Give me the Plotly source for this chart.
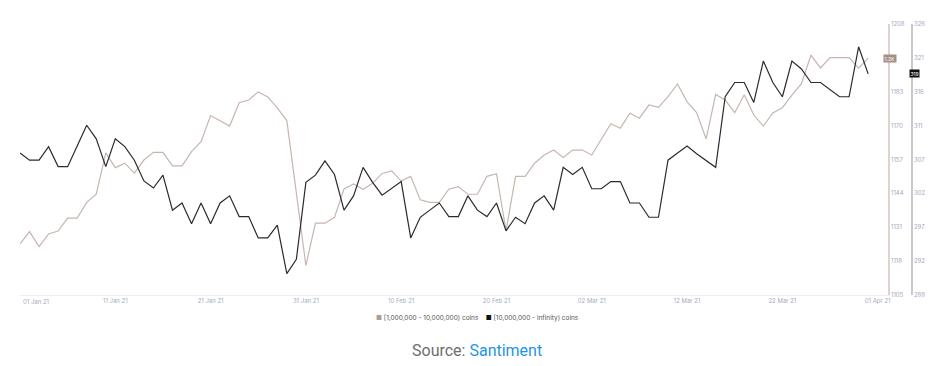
import numpy as np
import pandas as pd
import plotly.graph_objects as go

dates = pd.date_range("2021-01-01", periods=90, freq="D")

# [1,000,000 - 10,000,000) coins  (inner right axis, 1105..1208)
holders_1m_10m = [
    1124.4, 1129.1, 1123.4, 1128.2, 1129.3, 1134.2, 1134.2, 1140.2, 1143.3, 1159.0,
    1153.4, 1155.1, 1151.3, 1156.3, 1159.2, 1159.2, 1154.1, 1154.1, 1159.5, 1163.3,
    1173.2, 1171.3, 1169.2, 1178.1, 1179.1, 1182.2, 1180.3, 1176.1, 1171.3, 1143.8,
    1116.2, 1132.3, 1132.3, 1134.5, 1145.3, 1147.2, 1145.2, 1147.5, 1151.2, 1152.2,
    1148.3, 1150.1, 1141.2, 1140.2, 1140.2, 1145.2, 1146.2, 1143.3, 1143.3, 1150.1,
    1151.1, 1129.4, 1150.1, 1150.1, 1155.1, 1158.2, 1160.1, 1157.3, 1160.1, 1160.1,
    1158.2, 1164.2, 1170.1, 1168.4, 1174.1, 1172.2, 1177.2, 1176.3, 1180.4, 1185.2,
    1178.4, 1174.3, 1164.3, 1181.2, 1179.1, 1174.3, 1181.1, 1173.4, 1169.2, 1174.2,
    1176.2, 1181.0, 1185.3, 1196.2, 1191.3, 1195.2, 1195.2, 1195.2, 1191.2, 1195.0,
]

# [10,000,000 - infinity) coins  (outer right axis, 288..326)
holders_10m_inf = [
    307.9, 306.9, 306.9, 308.8, 306.0, 306.0, 308.9, 311.8, 309.9, 306.0,
    309.9, 308.8, 306.9, 304.0, 303.0, 304.8, 299.9, 300.9, 298.0, 300.9,
    298.0, 300.9, 301.9, 299.0, 299.0, 296.0, 296.0, 297.8, 291.0, 293.0,
    303.8, 304.8, 306.8, 304.9, 299.9, 301.9, 305.9, 303.8, 302.0, 302.9,
    303.9, 296.0, 298.9, 299.9, 300.9, 299.0, 299.0, 301.9, 299.9, 299.0,
    300.9, 297.0, 298.9, 298.0, 300.9, 301.9, 299.9, 305.9, 304.9, 305.9,
    302.9, 302.9, 303.9, 303.9, 300.9, 300.9, 298.9, 298.9, 306.9, 307.9,
    308.9, 307.8, 306.8, 305.9, 315.8, 317.8, 317.8, 315.0, 320.8, 317.8,
    315.8, 320.8, 319.7, 317.8, 317.8, 316.8, 315.8, 315.8, 322.8, 319.0,
]

x_tick_dates = ["2021-01-01", "2021-01-11", "2021-01-21", "2021-01-31", "2021-02-10",
                "2021-02-20", "2021-03-02", "2021-03-12", "2021-03-22", "2021-04-01"]
x_tick_labels = ["01 Jan 21", "11 Jan 21", "21 Jan 21", "31 Jan 21", "10 Feb 21",
                 "20 Feb 21", "02 Mar 21", "12 Mar 21", "22 Mar 21", "01 Apr 21"]

y1_range = [1105, 1208]
y1_labels = ["1105", "1118", "1131", "1144", "1157", "1170", "1183", "", "1208"]
y2_range = [288, 326]
y2_labels = ["288", "292", "297", "302", "307", "311", "316", "321", "326"]

legend_names = ["[1,000,000 - 10,000,000) coins", "[10,000,000 - infinity) coins"]

BROWN = "#c7b6af"
BLACK = "#2b2b2b"
TICK = "#a3abc2"

fig = go.Figure()
fig.add_trace(go.Scatter(x=dates, y=holders_1m_10m, name=legend_names[0], mode="lines",
                         line=dict(color=BROWN, width=1.2), yaxis="y"))
fig.add_trace(go.Scatter(x=dates, y=holders_10m_inf, name=legend_names[1], mode="lines",
                         line=dict(color=BLACK, width=1.2), yaxis="y2"))

W, H = 942, 366
ml, mr, mt, mb = 20, 12, 24, 71
pw = W - ml - mr
ph = H - mt - mb
x_dom_end = (888 - ml) / pw

# the first date label is drawn left-aligned at the plot edge (as in the reference)
shown_x_labels = [""] + x_tick_labels[1:]

fig.update_layout(
    width=W, height=H,
    margin=dict(l=ml, r=mr, t=mt, b=mb, pad=0, autoexpand=False),
    paper_bgcolor="white", plot_bgcolor="white",
    showlegend=False,
    font=dict(family="Inter", size=6, color=TICK),
    xaxis=dict(
        domain=[0, x_dom_end], automargin=False,
        range=[pd.Timestamp("2021-01-01"), pd.Timestamp("2021-04-02 02:00")],
        tickvals=pd.to_datetime(x_tick_dates), ticktext=shown_x_labels,
        showgrid=False, zeroline=False, showline=True, linecolor="#eceef3", linewidth=1,
        ticks="", tickfont=dict(size=6, color=TICK),
    ),
    yaxis=dict(
        side="right", anchor="x", range=y1_range, automargin=False,
        tickvals=list(np.linspace(y1_range[0], y1_range[1], len(y1_labels))),
        ticktext=y1_labels, showgrid=False, zeroline=False,
        showline=True, linecolor="#ddd3cf", linewidth=1.5, ticks="",
        tickfont=dict(size=6, color=TICK),
    ),
    yaxis2=dict(
        side="right", overlaying="y", anchor="free", position=(912 - ml) / pw,
        range=y2_range, automargin=False,
        tickvals=list(np.linspace(y2_range[0], y2_range[1], len(y2_labels))),
        ticktext=y2_labels, showgrid=False, zeroline=False,
        showline=True, linecolor="#c9c9c9", linewidth=1.5, ticks="",
        tickfont=dict(size=6, color=TICK),
    ),
)

fig.add_annotation(x=pd.Timestamp(x_tick_dates[0]), xref="x", y=(mt + ph - 301) / ph,
                   yref="paper", text=x_tick_labels[0], showarrow=False,
                   xanchor="left", yanchor="middle", xshift=1,
                   font=dict(size=6, color=TICK, family="Inter"))

# value badges at the last points
fig.add_annotation(x=(897 - ml) / pw, xref="paper", y=holders_1m_10m[-1], yref="y",
                   text="1.2K", showarrow=False, bgcolor="#a48f86",
                   font=dict(size=5, color="white", family="Inter"), borderpad=0.5)
fig.add_annotation(x=(920 - ml) / pw, xref="paper", y=holders_10m_inf[-1], yref="y2",
                   text=f"{holders_10m_inf[-1]:.0f}", showarrow=False, bgcolor="#111111",
                   font=dict(size=5, color="white", family="Inter"), borderpad=0.5)

# legend
leg_text = (f"<span style='color:#aa9e99'>■</span> {legend_names[0]}"
            f"&nbsp;&nbsp;&nbsp;&nbsp;<span style='color:#111'>■</span> {legend_names[1]}")
fig.add_annotation(x=(477 - ml) / pw, xref="paper", y=(mt + ph - 318) / ph, yref="paper",
                   text=leg_text, showarrow=False, xanchor="center", yanchor="middle",
                   font=dict(size=6.5, color="#555555", family="Inter"))

# source
fig.add_annotation(x=(477 - ml) / pw, xref="paper", y=(mt + ph - 350) / ph, yref="paper",
                   text="Source: <span style='color:#1f93ea'>Santiment</span>",
                   showarrow=False, xanchor="center", yanchor="middle",
                   font=dict(size=16, color="#6e6e6e", family="Roboto"))

fig.write_html("out.html", config={"displayModeBar": False},
               post_script="document.body.style.margin='0';")
